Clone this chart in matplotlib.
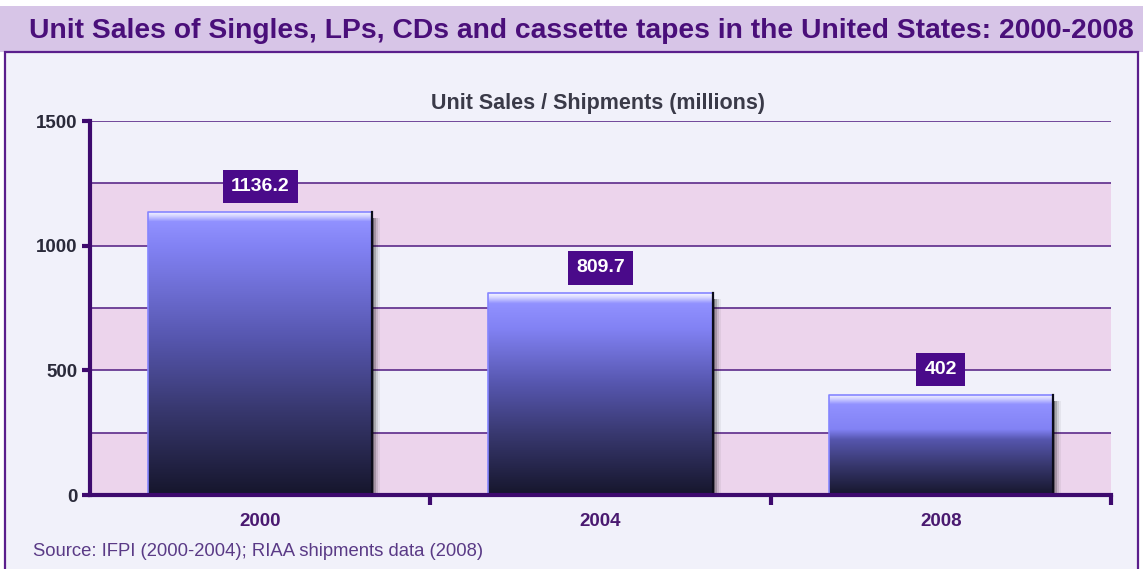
import numpy as np
import matplotlib
matplotlib.use("Agg")
import matplotlib.pyplot as plt
from matplotlib.patches import Rectangle
from matplotlib.ticker import MultipleLocator, FixedLocator
from matplotlib.colors import LinearSegmentedColormap

plt.rcParams['font.family'] = ['Liberation Sans', 'DejaVu Sans']

years = ["2000", "2004", "2008"]
units = [1136.2, 809.7, 402]
value_labels = ["1136.2", "809.7", "402"]
y_ticks = [0, 500, 1000, 1500]

title = "Unit Sales of Singles, LPs, CDs and cassette tapes in the United States: 2000-2008"
subtitle = "Unit Sales / Shipments (millions)"
source = "Source: IFPI (2000-2004); RIAA shipments data (2008)"

W, H = 1143, 569
fig = plt.figure(figsize=(W / 100, H / 100), dpi=100)
fig.patch.set_facecolor("white")

# title band and framed panel
fig.patches.append(Rectangle((0, (H - 52) / H), 1, 46 / H, transform=fig.transFigure,
                             facecolor="#d7c5e7", edgecolor="none", zorder=-2))
fig.patches.append(Rectangle((5 / W, -0.01), 1133 / W, (H - 52) / H + 0.01,
                             transform=fig.transFigure, facecolor="#f1f1fa",
                             edgecolor="#5a1e8c", linewidth=1.6, zorder=-1))
fig.text(581 / W, 1 - 31 / H, title, ha="center", va="center", fontsize=20.3,
         fontweight="bold", color="#4a0f7a")

ax_h_px = 374
ax = fig.add_axes([90 / W, 74 / H, 1021 / W, ax_h_px / H])
ax.set_facecolor("#f1f1fa")
ax.set_xlim(-0.5, 2.5)
ax.set_ylim(0, 1500)

# alternating pink bands
for lo in (0, 500, 1000):
    ax.axhspan(lo, lo + 250, color="#ecd4ec", zorder=0.5, linewidth=0)

ax.yaxis.set_major_locator(FixedLocator(y_ticks))
ax.yaxis.set_minor_locator(MultipleLocator(250))
ax.grid(axis="y", which="both", color="#5c2a8a", linewidth=1.2, zorder=1)
ax.set_axisbelow(True)

for s in ("top", "right"):
    ax.spines[s].set_visible(False)
for s in ("left", "bottom"):
    ax.spines[s].set_color("#3e0a6e")
    ax.spines[s].set_linewidth(3)
    ax.spines[s].set_zorder(5)

ax.tick_params(axis="y", which="major", direction="out", length=6, width=3,
               color="#3e0a6e", labelsize=13.5, labelcolor="#2a2a3a", pad=3)
ax.tick_params(axis="y", which="minor", length=0)
for lab in ax.get_yticklabels():
    lab.set_fontweight("bold")

ax.set_xticks(range(len(years)))
ax.set_xticklabels(years, fontweight="bold", fontsize=13.5, color="#4a1a70")
ax.xaxis.set_minor_locator(FixedLocator([0.5, 1.5, 2.5]))
ax.tick_params(axis="x", which="major", length=0, pad=13)
ax.tick_params(axis="x", which="minor", direction="out", length=7, width=3,
               color="#3e0a6e")

bar_w = 0.66
bars = ax.bar(range(len(years)), units, width=bar_w, color="none",
              edgecolor="none", zorder=3)

g = np.linspace(0, 1, 512).reshape(-1, 1)
px_per_unit = ax_h_px / 1500
x_per_px = 3.0 / 1021

for rect, lab in zip(bars, value_labels):
    x0, w, h = rect.get_x(), rect.get_width(), rect.get_height()
    hp = h * px_per_unit
    hl = min(0.5, 10 / hp)        # white sheen on the top ~10 px
    lt = min(0.6, 35 / hp)
    grad = LinearSegmentedColormap.from_list("bar", [
        (0.0, "#16162c"), (0.3, "#38386f"), (0.55, "#5656ae"),
        (1 - lt, "#8282f4"), (1 - hl, "#9191ff"), (1 - hl * 0.4, "#d6d6ff"),
        (1.0, "#f6f6ff")])
    # soft drop shadow on the right
    for k, a in enumerate([0.3, 0.18, 0.1, 0.05]):
        ax.add_patch(Rectangle((x0 + w, 0), x_per_px * 2 * (k + 1), h - 6 * 4,
                               facecolor="black", alpha=a, edgecolor="none", zorder=2.5))
    im = ax.imshow(g, cmap=grad, origin="lower", aspect="auto",
                   extent=(x0, x0 + w, 0, h), zorder=3)
    im.set_clip_path(rect)
    ax.plot([x0, x0, x0 + w], [0, h, h], color="#8585ff", linewidth=1.2, zorder=3.3)
    ax.plot([x0 + w, x0 + w], [0, h], color="#0c0c1a", linewidth=1.6, zorder=3.3)
    ax.annotate(lab, (x0 + w / 2, h), xytext=(0, 12), textcoords="offset points",
                ha="center", va="bottom", fontsize=14, fontweight="bold", color="white",
                bbox=dict(boxstyle="square,pad=0.42", facecolor="#4a0a8a",
                          edgecolor="none"), zorder=6)

ax.set_xlim(-0.5, 2.5)
ax.set_ylim(0, 1500)

fig.text(598 / W, 1 - 103 / H, subtitle, ha="center", va="center", fontsize=15.5,
         fontweight="bold", color="#3a3a48")
fig.text(33 / W, 1 - 551 / H, source, ha="left", va="center", fontsize=13.3,
         color="#5a3a86")

fig.savefig("out.png", dpi=100, facecolor=fig.get_facecolor())
